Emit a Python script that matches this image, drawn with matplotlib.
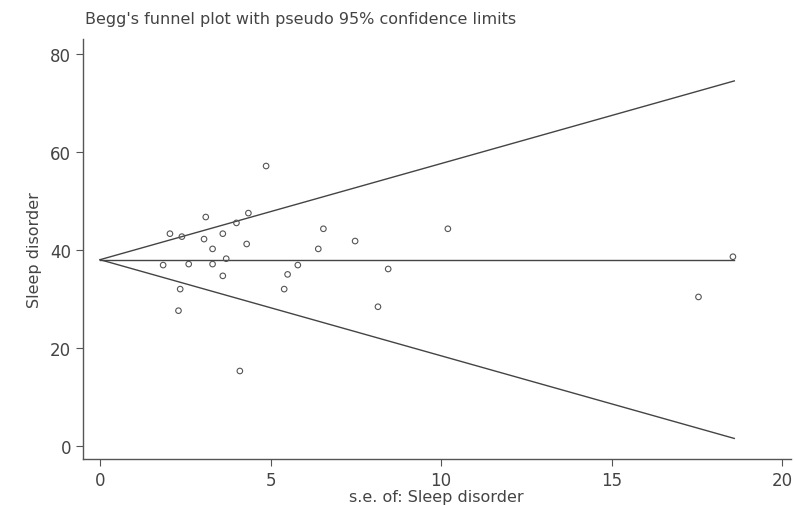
import matplotlib
matplotlib.use("Agg")
import matplotlib.pyplot as plt
import numpy as np

plt.rcParams['font.family'] = ['DejaVu Sans']

# study standard errors and effect sizes
se = [2.05, 2.4, 3.1, 3.05, 3.6, 4.0, 4.35, 4.3, 3.3, 3.3, 2.6, 1.85, 3.7, 3.6,
      2.35, 2.3, 4.1, 4.87, 5.8, 5.5, 5.4, 6.4, 6.55, 7.48, 8.45, 8.15, 10.2,
      18.56, 17.55]
effect = [43.3, 42.7, 46.7, 42.2, 43.3, 45.5, 47.5, 41.2, 40.2, 37.1, 37.1, 36.9,
          38.2, 34.7, 32.0, 27.6, 15.3, 57.1, 36.9, 35.0, 32.0, 40.2, 44.3, 41.8,
          36.1, 28.4, 44.3, 38.6, 30.4]
pooled = 38.0
se_max = 18.6

grey = '#555555'

fig = plt.figure(figsize=(7.95, 5.06), dpi=100)
ax = fig.add_axes([0.1044, 0.0909, 0.89, 0.83])

s = np.array([0, se_max])
ax.plot(s, pooled + 1.96 * s, color='#444444', lw=1.0)
ax.plot(s, pooled - 1.96 * s, color='#444444', lw=1.0)
ax.plot(s, [pooled, pooled], color='#444444', lw=1.0)
ax.scatter(se, effect, s=16, facecolors='none', edgecolors='#555555', linewidths=0.8, zorder=3)

ax.set_xlim(-0.5, 20.25)
ax.set_ylim(-2.65, 83)
ax.set_xticks([0, 5, 10, 15, 20])
ax.set_yticks([0, 20, 40, 60, 80])

for sp in ['top', 'right']:
    ax.spines[sp].set_visible(False)
for sp in ['left', 'bottom']:
    ax.spines[sp].set_color(grey)
    ax.spines[sp].set_linewidth(1.0)
ax.tick_params(colors=grey, labelcolor='#444444', labelsize=12, length=5, direction='out')

ax.set_xlabel('s.e. of: Sleep disorder', fontsize=11.5, color='#444444', labelpad=0)
ax.set_ylabel('Sleep disorder', fontsize=11.5, color='#444444', labelpad=6)
fig.text(0.107, 0.962, "Begg's funnel plot with pseudo 95% confidence limits",
         fontsize=11.5, color='#444444', ha='left', va='center')

fig.savefig('out.png', dpi=100)
